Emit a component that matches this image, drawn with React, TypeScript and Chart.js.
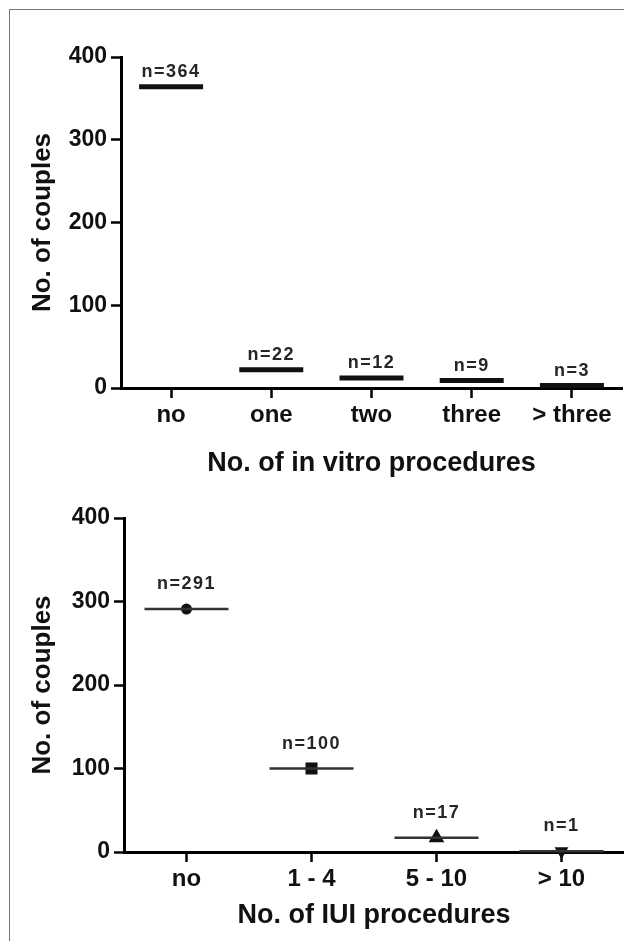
import React, { useEffect, useRef } from "react";
import { Chart, registerables } from "chart.js";

Chart.register(...registerables);

// ---- data ----
const IVF_CATEGORIES = ["no", "one", "two", "three", "> three"];
const IVF_COUNTS = [364, 22, 12, 9, 3];
const IUI_CATEGORIES = ["no", "1 - 4", "5 - 10", "> 10"];
const IUI_COUNTS = [291, 100, 17, 1];
const Y_MIN = 0;
const Y_MAX = 400;
const Y_STEP = 100;
const Y_TITLE = "No. of couples";
const IVF_X_TITLE = "No. of in vitro procedures";
const IUI_X_TITLE = "No. of IUI procedures";

// marker styles for the IUI chart
const IUI_MARKER_STYLES = ["circle", "rect", "triangle", "triangle"];
const IUI_MARKER_ROTATION = [0, 0, 0, 180];
const IUI_MARKER_RADIUS = [5.5, 8.5, 9, 8];

const FONT = "Arial, 'Liberation Sans', Helvetica, sans-serif";

function makeCountLabels(values: number[], gap: number) {
  return {
    id: "countLabels",
    afterDatasetsDraw(chart: any) {
      const { ctx } = chart;
      const xs = chart.scales.x;
      const ys = chart.scales.y;
      ctx.save();
      ctx.font = `bold 18px ${FONT}`;
      ctx.fillStyle = "#262626";
      ctx.textAlign = "center";
      ctx.textBaseline = "alphabetic";
      try {
        (ctx as any).letterSpacing = "1.5px";
      } catch (e) {}
      values.forEach((v, i) => {
        ctx.fillText("n=" + v, xs.getPixelForValue(i), ys.getPixelForValue(v) - gap);
      });
      ctx.restore();
    },
  };
}

function axisOptions(opts: {
  xTitle: string;
  yWidth: number;
  xHeight: number;
  xTitlePadBottom: number;
}) {
  const tickFont = { family: FONT, size: 24, weight: "bold" as const };
  const xTitleFont = { family: FONT, size: 27, weight: "bold" as const };
  const yTitleFont = { family: FONT, size: 26, weight: "bold" as const };
  return {
    x: {
      type: "category" as const,
      offset: true,
      grid: {
        offset: false,
        drawOnChartArea: false,
        drawTicks: true,
        tickLength: 10,
        tickWidth: 2.5,
        tickColor: "#000",
      },
      border: { display: true, width: 3, color: "#000" },
      ticks: {
        font: tickFont,
        color: "#111",
        padding: 3,
        maxRotation: 0,
        autoSkip: false,
      },
      title: {
        display: true,
        text: opts.xTitle,
        font: xTitleFont,
        color: "#111",
        padding: { top: 0, bottom: opts.xTitlePadBottom },
      },
      afterFit: (s: any) => {
        s.height = opts.xHeight;
        s.paddingLeft = 0;
        s.paddingRight = 0;
      },
    },
    y: {
      min: Y_MIN,
      max: Y_MAX,
      grid: {
        drawOnChartArea: false,
        drawTicks: true,
        tickLength: 10,
        tickWidth: 2.5,
        tickColor: "#000",
      },
      border: { display: true, width: 3, color: "#000" },
      ticks: {
        stepSize: Y_STEP,
        font: { family: FONT, size: 23, weight: "bold" as const },
        color: "#111",
        padding: 4,
      },
      title: {
        display: true,
        text: Y_TITLE,
        font: yTitleFont,
        color: "#111",
        padding: { top: 27, bottom: 0 },
      },
      afterFit: (s: any) => {
        s.width = opts.yWidth;
        s.paddingTop = 0;
        s.paddingBottom = 0;
      },
    },
  };
}

function IvfChart() {
  const ref = useRef<HTMLCanvasElement | null>(null);
  useEffect(() => {
    if (!ref.current) return;
    const chart = new Chart(ref.current, {
      type: "line",
      data: {
        labels: IVF_CATEGORIES,
        datasets: [
          {
            data: IVF_COUNTS,
            showLine: false,
            pointStyle: "line",
            pointRadius: 32,
            pointHoverRadius: 32,
            pointBorderWidth: 5,
            pointBorderColor: "#111",
            borderColor: "#111",
            backgroundColor: "#111",
            clip: false,
          } as any,
        ],
      },
      options: {
        animation: false,
        responsive: false,
        events: [],
        layout: { autoPadding: false, padding: { top: 57, right: 2, bottom: 0, left: 0 } },
        plugins: {
          legend: { display: false },
          tooltip: { enabled: false },
        },
        scales: axisOptions({
          xTitle: IVF_X_TITLE,
          yWidth: 121,
          xHeight: 102,
          xTitlePadBottom: 10,
        }) as any,
      },
      plugins: [makeCountLabels(IVF_COUNTS, 10)],
    });
    return () => chart.destroy();
  }, []);
  return (
    <canvas
      ref={ref}
      width={624}
      height={490}
      style={{ position: "absolute", left: 0, top: 0, width: 624, height: 490 }}
    />
  );
}

function IuiChart() {
  const ref = useRef<HTMLCanvasElement | null>(null);
  useEffect(() => {
    if (!ref.current) return;
    const chart = new Chart(ref.current, {
      type: "line",
      data: {
        labels: IUI_CATEGORIES,
        datasets: [
          {
            data: IUI_COUNTS,
            showLine: false,
            pointStyle: "line",
            pointRadius: 42,
            pointHoverRadius: 42,
            pointBorderWidth: 2.5,
            pointBorderColor: "#333",
            borderColor: "#333",
            backgroundColor: "#333",
            clip: false,
          } as any,
          {
            data: IUI_COUNTS,
            showLine: false,
            pointStyle: IUI_MARKER_STYLES,
            pointRotation: IUI_MARKER_ROTATION,
            pointRadius: IUI_MARKER_RADIUS,
            pointHoverRadius: IUI_MARKER_RADIUS,
            pointBorderWidth: 0,
            pointBackgroundColor: "#111",
            borderColor: "#111",
            backgroundColor: "#111",
            clip: false,
          } as any,
        ],
      },
      options: {
        animation: false,
        responsive: false,
        events: [],
        layout: { autoPadding: false, padding: { top: 48, right: 0, bottom: 0, left: 0 } },
        plugins: {
          legend: { display: false },
          tooltip: { enabled: false },
        },
        scales: axisOptions({
          xTitle: IUI_X_TITLE,
          yWidth: 124,
          xHeight: 89,
          xTitlePadBottom: 9,
        }) as any,
      },
      plugins: [makeCountLabels(IUI_COUNTS, 20)],
    });
    return () => chart.destroy();
  }, []);
  return (
    <canvas
      ref={ref}
      width={624}
      height={471}
      style={{ position: "absolute", left: 0, top: 470, width: 624, height: 471 }}
    />
  );
}

export default function App() {
  return (
    <div
      style={{
        position: "absolute",
        left: 0,
        top: 0,
        width: 624,
        height: 941,
        overflow: "hidden",
        background: "#fff",
      }}
    >
      <div
        style={{
          position: "absolute",
          left: 9,
          top: 9,
          width: 700,
          height: 1000,
          borderTop: "1px solid #777",
          borderLeft: "1px solid #777",
        }}
      />
      <IvfChart />
      <IuiChart />
    </div>
  );
}
